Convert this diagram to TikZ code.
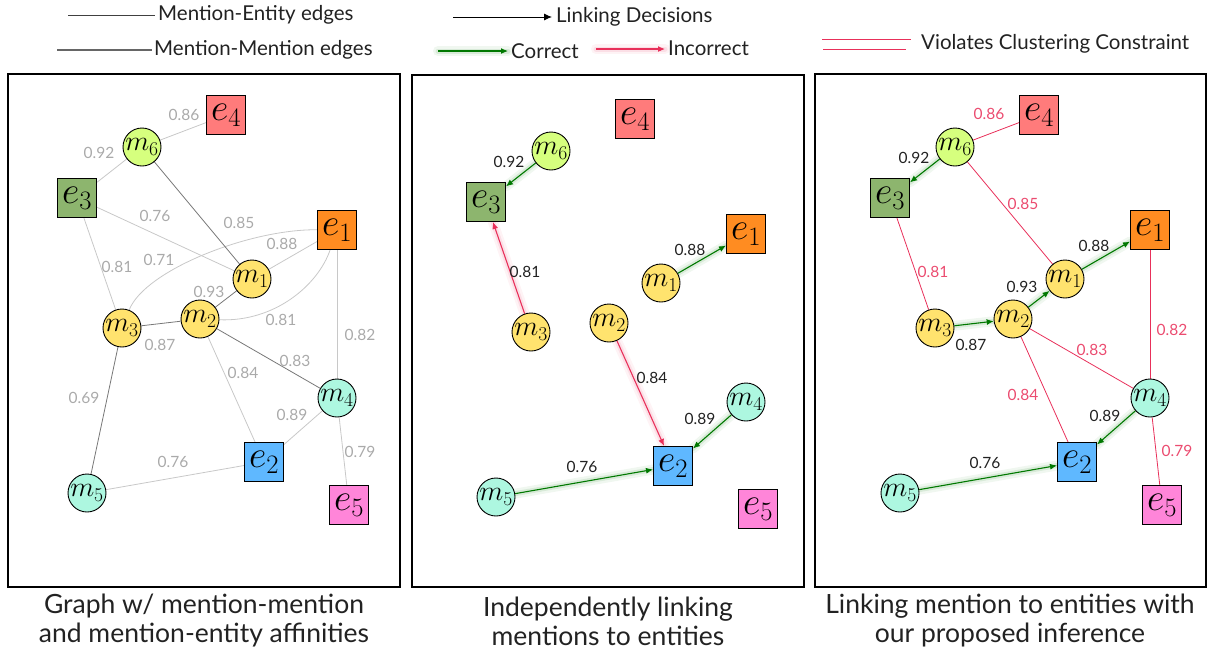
\RequirePackage{fix-cm}
\documentclass[tikz,border=0pt]{standalone}
\usepackage[no-math]{fontspec}
\setmainfont{Lato}
\usetikzlibrary{arrows.meta}
\pgfdeclarelayer{bg}
\pgfsetlayers{bg,main}
\definecolor{ce1}{HTML}{FF8C21}
\definecolor{ce2}{HTML}{5FB8FF}
\definecolor{ce3}{HTML}{8DB56E}
\definecolor{ce4}{HTML}{FF7B7B}
\definecolor{ce5}{HTML}{FF85D9}
\definecolor{cm6}{HTML}{D6FF7E}
\definecolor{cmy}{HTML}{FFE36E}
\definecolor{cmt}{HTML}{ADF7E0}
\definecolor{cgreen}{HTML}{007800}
\definecolor{cred}{HTML}{E8305A}
\definecolor{credl}{HTML}{EB4C70}
\definecolor{lgray}{HTML}{C8C8C8}
\definecolor{dgray}{HTML}{777777}
\definecolor{lblgray}{HTML}{AAAAAA}
\definecolor{txt}{HTML}{222222}
\newcommand\ee[1]{\fontsize{38}{38}\selectfont\makebox[0pt]{$e_{#1}$}}
\newcommand\mm[1]{\fontsize{28}{28}\selectfont\makebox[0pt]{$m_{#1}$}}
\tikzset{
  ent/.style={draw=black, line width=1pt, rectangle, minimum size=39pt, inner sep=0pt},
  ment/.style={draw=black, line width=0.9pt, circle, minimum size=38pt, inner sep=0pt},
  frame/.style={draw=black, line width=1.4pt},
  meedge/.style={draw=lgray, line width=0.8pt},
  mmedge/.style={draw=dgray, line width=0.8pt},
  viol/.style={draw=cred, line width=0.8pt},
  corr/.style={draw=cgreen, line width=1.1pt, -{Latex[length=7pt,width=6pt]},
    preaction={draw=cgreen, opacity=0.06, line width=10pt, line cap=round, arrows=-},
    preaction={draw=cgreen, opacity=0.10, line width=5pt, line cap=round, arrows=-}},
  incorr/.style={draw=cred, line width=1.1pt, -{Latex[length=7pt,width=6pt]},
    preaction={draw=cred, opacity=0.06, line width=10pt, line cap=round, arrows=-},
    preaction={draw=cred, opacity=0.10, line width=5pt, line cap=round, arrows=-}},
  lbl/.style={font=\fontsize{15.5}{16}\selectfont, inner sep=1pt},
  lgl/.style={lbl, text=lblgray},
  lbk/.style={lbl, text=txt},
  lrd/.style={lbl, text=credl},
  legtext/.style={font=\fontsize{20.5}{22}\selectfont, text=txt, anchor=west, inner sep=0pt},
  capt/.style={font=\fontsize{26.5}{29}\selectfont, text=txt, align=center},
}
\newcommand\allnodes[1]{%
  \node[ent,fill=ce4] (#1e4) at (226,115) {\ee4};
  \node[ment,fill=cm6] (#1m6) at (142,147) {\mm6};
  \node[ent,fill=ce3] (#1e3) at (77,198) {\ee3};
  \node[ent,fill=ce1] (#1e1) at (337,230) {\ee1};
  \node[ment,fill=cmy] (#1m1) at (252,279) {\mm1};
  \node[ment,fill=cmy] (#1m2) at (200,319) {\mm2};
  \node[ment,fill=cmy] (#1m3) at (122,328) {\mm3};
  \node[ment,fill=cmt] (#1m4) at (337,398) {\mm4};
  \node[ent,fill=ce2] (#1e2) at (264,462) {\ee2};
  \node[ment,fill=cmt] (#1m5) at (87,493) {\mm5};
  \node[ent,fill=ce5] (#1e5) at (349,505) {\ee5};
}
\begin{document}
\begin{tikzpicture}[x=1pt,y=-1pt]
\useasboundingbox (0,0) rectangle (1208,649);

% ---------- legend ----------
\coordinate (la1) at (68,15);  \coordinate (la2) at (155,15);
\coordinate (lb1) at (57,50);  \coordinate (lb2) at (152,50);
\coordinate (lc1) at (453,17); \coordinate (lc2) at (552,17);
\coordinate (ld1) at (438,51); \coordinate (ld2) at (508,51);
\coordinate (le1) at (596,49); \coordinate (le2) at (665,49);
\coordinate (lf1) at (822,39); \coordinate (lf2) at (911,39);
\coordinate (lg1) at (823,49); \coordinate (lg2) at (906,49);
\draw[draw=black!75, line width=0.7pt] (la1) -- (la2);
\draw[draw=black!60, line width=1.1pt] (lb1) -- (lb2);
\draw[black, line width=0.9pt, -{Latex[length=8pt,width=7pt]}] (lc1) -- (lc2);
\draw[corr] (ld1) -- (ld2);
\draw[incorr] (le1) -- (le2);
\draw[viol] (lf1) -- (lf2);
\draw[viol] (lg1) -- (lg2);
\node[legtext] (ta) at (158,15) {Mention-Entity edges};
\node[legtext] (tb) at (154,50) {Mention-Mention edges};
\node[legtext] (tc) at (556,17) {Linking Decisions};
\node[legtext] (td) at (511,51) {Correct};
\node[legtext] (te) at (668,48) {Incorrect};
\node[legtext] (tf) at (921,44) {Violates Clustering Constraint};

% ---------- frames ----------
\draw[frame] (8,74) rectangle (400,587);
\draw[frame] (412,75) rectangle (804,587);
\draw[frame] (815,74) rectangle (1206,587);

% ---------- nodes ----------
\allnodes{a}
\begin{scope}[shift={(409,4)}]\allnodes{b}\end{scope}
\begin{scope}[shift={(813,0)}]\allnodes{c}\end{scope}

% ---------- panel 1 edges ----------
\begin{pgfonlayer}{bg}
\draw[meedge] (am6) -- (ae4);
\draw[meedge] (am6) -- (ae3);
\draw[meedge] (ae3) -- (am1);
\draw[meedge] (ae3) -- (am3);
\draw[meedge] (am3) .. controls (145,270) and (250,229) .. (ae1);
\draw[meedge] (am1) -- (ae1);
\draw[meedge] (am2) .. controls (275,322) and (318,285) .. (ae1);
\draw[meedge] (am2) -- (ae2);
\draw[meedge] (ae1) -- (am4);
\draw[meedge] (am4) -- (ae2);
\draw[meedge] (am4) -- (ae5);
\draw[meedge] (am5) -- (ae2);
\draw[mmedge] (am6) -- (am1);
\draw[mmedge] (am2) -- (am1);
\draw[mmedge] (am3) -- (am2);
\draw[mmedge] (am2) -- (am4);
\draw[mmedge] (am3) -- (am5);
\end{pgfonlayer}
\node[lgl] (p1l1) at (184,115) {0.86};
\node[lgl] (p1l2) at (99,153) {0.92};
\node[lgl] (p1l3) at (239,223) {0.85};
\node[lgl] (p1l4) at (155,216) {0.76};
\node[lgl] (p1l5) at (117,267) {0.81};
\node[lgl] (p1l6) at (159,260) {0.71};
\node[lgl] (p1l7) at (282,244) {0.88};
\node[lgl] (p1l8) at (281,320) {0.81};
\node[lgl] (p1l9) at (209,292) {0.93};
\node[lgl] (p1l10) at (160,345) {0.87};
\node[lgl] (p1l11) at (295,361) {0.83};
\node[lgl] (p1l12) at (243,373) {0.84};
\node[lgl] (p1l13) at (360,335) {0.82};
\node[lgl] (p1l14) at (292,415) {0.89};
\node[lgl] (p1l15) at (360,452) {0.79};
\node[lgl] (p1l16) at (84,398) {0.69};
\node[lgl] (p1l17) at (173,462) {0.76};

% ---------- panel 2 edges ----------
\begin{pgfonlayer}{bg}
\draw[corr] (bm6) -- (be3);
\draw[incorr] (bm3) -- (be3);
\draw[corr] (bm1) -- (be1);
\draw[incorr] (bm2) -- (be2);
\draw[corr] (bm4) -- (be2);
\draw[corr] (bm5) -- (be2);
\end{pgfonlayer}
\node[lbk] (p2l1) at (509,162) {0.92};
\node[lbk] (p2l2) at (525,272) {0.81};
\node[lbk] (p2l3) at (690,250) {0.88};
\node[lbk] (p2l4) at (652,378) {0.84};
\node[lbk] (p2l5) at (700,419) {0.89};
\node[lbk] (p2l6) at (582,467) {0.76};

% ---------- panel 3 edges ----------
\begin{pgfonlayer}{bg}
\draw[viol] (cm6) -- (ce4);
\draw[viol] (cm6) -- (cm1);
\draw[viol] (ce3) -- (cm3);
\draw[viol] (cm2) -- (cm4);
\draw[viol] (cm2) -- (ce2);
\draw[viol] (ce1) -- (cm4);
\draw[viol] (cm4) -- (ce5);
\draw[corr] (cm6) -- (ce3);
\draw[corr] (cm1) -- (ce1);
\draw[corr] (cm2) -- (cm1);
\draw[corr] (cm3) -- (cm2);
\draw[corr] (cm4) -- (ce2);
\draw[corr] (cm5) -- (ce2);
\end{pgfonlayer}
\node[lrd] (p3l1) at (989,114) {0.86};
\node[lrd] (p3l2) at (1023,204) {0.85};
\node[lrd] (p3l3) at (933,272) {0.81};
\node[lrd] (p3l4) at (1092,350) {0.83};
\node[lrd] (p3l5) at (1023,395) {0.84};
\node[lrd] (p3l6) at (1172,330) {0.82};
\node[lrd] (p3l7) at (1177,451) {0.79};
\node[lbk] (p3l8) at (914,158) {0.92};
\node[lbk] (p3l9) at (1094,246) {0.88};
\node[lbk] (p3l10) at (1022,287) {0.93};
\node[lbk] (p3l11) at (971,345) {0.87};
\node[lbk] (p3l12) at (1105,416) {0.89};
\node[lbk] (p3l13) at (985,463) {0.76};

% ---------- captions ----------
\node[capt] (c1) at (204,621) {Graph w/ mention-mention\\and mention-entity affinities};
\node[capt] (c2) at (608,621) {Independently linking\\mentions to entities};
\node[capt] (c3) at (1010,621) {Linking mention to entities with\\our proposed inference};
\end{tikzpicture}
\end{document}
